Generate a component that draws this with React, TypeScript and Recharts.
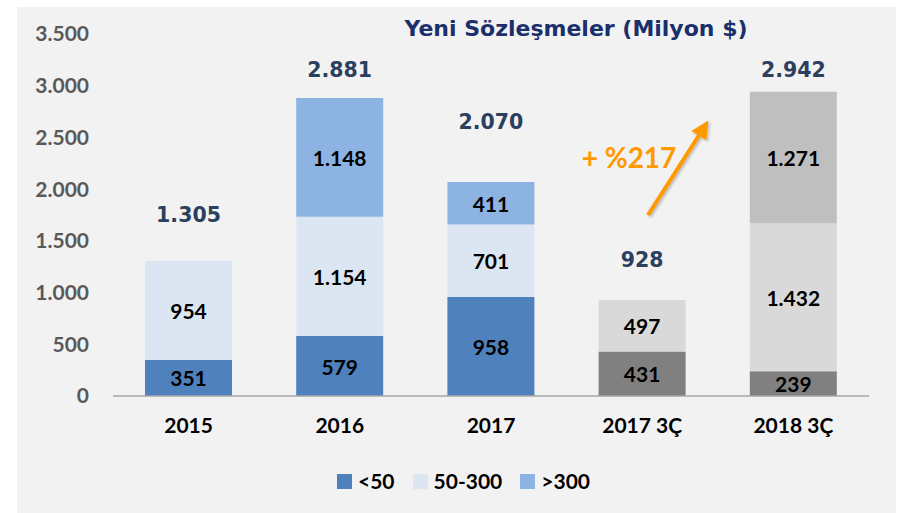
import { BarChart, Bar, XAxis, YAxis, Legend, LabelList, Cell } from 'recharts'

const categories = ['2015', '2016', '2017', '2017 3Ç', '2018 3Ç']
const under50 = [351, 579, 958, 431, 239]
const mid50to300 = [954, 1154, 701, 497, 1432]
const over300 = [0, 1148, 411, 0, 1271]
const totals = [1305, 2881, 2070, 928, 2942]
const yTicks = [0, 500, 1000, 1500, 2000, 2500, 3000, 3500]

// how far above each bar the total sits (px), as placed on the slide
const TOTAL_LIFT = [46, 28, 60, 40, 22]

const SERIES = [
  { key: 'small', name: '<50', blue: '#4F81BD', grey: '#808080' },
  { key: 'mid', name: '50-300', blue: '#DCE6F2', grey: '#D9D9D9' },
  { key: 'large', name: '>300', blue: '#8DB3E2', grey: '#BFBFBF' },
]

const data = categories.map((name, i) => ({
  name,
  small: under50[i],
  mid: mid50to300[i],
  large: over300[i],
  total: totals[i],
  quarter: name.includes('3Ç'),
}))

const LATO = 'Lato, "Open Sans", sans-serif'
const fmt = (n: number) => String(n).replace(/\B(?=(\d{3})+(?!\d))/g, '.')

const InnerLabel = (p: any) => {
  const { x, y, width, height, value } = p
  if (!value) return null
  return (
    <text
      x={x + width / 2}
      y={y + height / 2}
      textAnchor="middle"
      dominantBaseline="central"
      fill="#000"
      fontFamily={LATO}
      fontWeight={700}
      fontSize={21}
    >
      {fmt(value)}
    </text>
  )
}

// drawn from the bottom segment (never empty): scale its px/unit up to the stack total
const TotalLabel = (p: any) => {
  const { x, y, width, height, index } = p
  const d = data[index]
  if (!d) return null
  const base = y + height
  const top = base - d.total * (height / d.small)
  const lift = TOTAL_LIFT[index] ?? 30
  return (
    <text
      x={x + width / 2}
      y={top - lift}
      textAnchor="middle"
      dominantBaseline="central"
      fill="#2B3F5E"
      fontFamily='"DejaVu Sans", sans-serif'
      fontWeight={700}
      fontSize={20.5}
    >
      {fmt(d.total)}
    </text>
  )
}

const LegendContent = () => (
  <div style={{ height: 60, paddingLeft: 320, paddingTop: 30, boxSizing: 'border-box', display: 'flex', alignItems: 'center' }}>
    {SERIES.map(s => (
      <div key={s.key} style={{ display: 'flex', alignItems: 'center', marginRight: 18 }}>
        <span style={{ width: 15, height: 15, background: s.blue, display: 'inline-block', marginRight: 6 }} />
        <span style={{ fontFamily: LATO, fontWeight: 700, fontSize: 21, color: '#000', lineHeight: '20px' }}>{s.name}</span>
      </div>
    ))}
  </div>
)

export default function App() {
  return (
    <div style={{ position: 'absolute', left: 17, top: 7, width: 879, height: 506, background: '#F2F2F2' }}>
      <BarChart width={879} height={506} data={data} margin={{ top: 27, right: 27, bottom: 17, left: 0 }} barSize={87}>
        <YAxis
          width={96}
          domain={[0, 3500]}
          ticks={yTicks}
          interval={0}
          axisLine={false}
          tickLine={false}
          tickSize={0}
          tickMargin={24}
          tickFormatter={fmt}
          tick={{ fill: '#595959', fontSize: 21, fontWeight: 700, fontFamily: LATO }}
        />
        <XAxis
          dataKey="name"
          height={40}
          tickLine={false}
          tickSize={0}
          tickMargin={22}
          axisLine={{ stroke: '#A6A6A6', strokeWidth: 1.5 }}
          tick={{ fill: '#000', fontSize: 21, fontWeight: 700, fontFamily: LATO }}
        />
        <Legend verticalAlign="bottom" content={LegendContent} />
        {SERIES.map((s, si) => (
          <Bar key={s.key} dataKey={s.key} name={s.name} stackId="a" fill={s.blue} isAnimationActive={false}>
            {data.map((d, i) => (
              <Cell key={i} fill={d.quarter ? s.grey : s.blue} />
            ))}
            <LabelList dataKey={s.key} content={InnerLabel} />
            {si === 0 && <LabelList dataKey="total" content={TotalLabel} />}
          </Bar>
        ))}
      </BarChart>
      <svg width={879} height={506} style={{ position: 'absolute', left: 0, top: 0, pointerEvents: 'none' }}>
        <defs>
          <marker id="head" markerWidth="4.5" markerHeight="4.5" refX="2" refY="2.25" orient="auto" markerUnits="strokeWidth">
            <path d="M0,0 L4.5,2.25 L0,4.5 z" fill="#FF9900" />
          </marker>
          <filter id="shadow" x="-20%" y="-20%" width="140%" height="140%">
            <feDropShadow dx="1.5" dy="1.5" stdDeviation="1.2" floodColor="#000" floodOpacity="0.25" />
          </filter>
        </defs>
        <text
          x={559}
          y={21}
          textAnchor="middle"
          dominantBaseline="central"
          fill="#1A2F6B"
          fontFamily='"DejaVu Sans", sans-serif'
          fontWeight={700}
          fontSize={22}
        >
          Yeni Sözleşmeler (Milyon $)
        </text>
        <text
          x={612}
          y={150}
          textAnchor="middle"
          dominantBaseline="central"
          fill="#FF9900"
          fontFamily={LATO}
          fontWeight={700}
          fontSize={28}
        >
          + %217
        </text>
        <line x1={631} y1={208} x2={686} y2={122} stroke="#FF9900" strokeWidth={4} markerEnd="url(#head)" filter="url(#shadow)" />
      </svg>
    </div>
  )
}
